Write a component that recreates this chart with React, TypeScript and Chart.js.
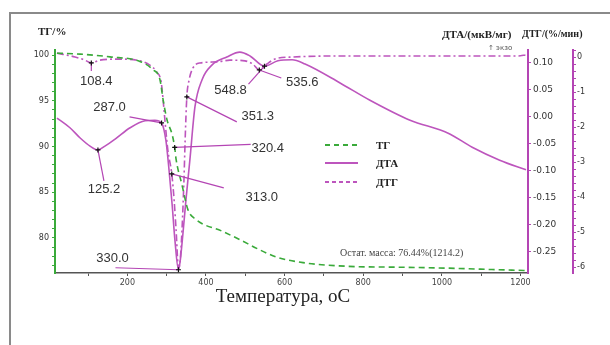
import React, { useEffect, useRef } from 'react';
import { Chart, registerables } from 'chart.js';

Chart.register(...registerables);

// ---- data ----
const tgTemps = [21, 80, 156, 232, 265, 283, 291, 301, 314, 320.4, 324, 339, 354, 372, 443, 487, 532, 580, 647, 761, 893, 1015, 1127, 1214.2];
const tgValues = [100.2, 100.1, 99.8, 99.3, 98.4, 97.3, 95.1, 92.9, 91.3, 89.9, 88.6, 85.8, 83.1, 82.1, 80.7, 79.8, 78.8, 77.9, 77.3, 76.9, 76.8, 76.7, 76.55, 76.44];

const dtaTemps = [21, 54, 80, 105, 125.2, 143, 169, 207, 245, 270, 287.0, 298, 306, 314, 321, 330.0, 334, 341, 349, 359, 372, 390, 415, 453, 486, 512, 548.8, 583, 619, 652, 741, 817, 919, 1016, 1077, 1147, 1214];
const dtaValues = [-0.002, -0.020, -0.039, -0.054, -0.061, -0.054, -0.041, -0.020, -0.007, -0.006, -0.011, -0.043, -0.098, -0.163, -0.228, -0.283, -0.269, -0.219, -0.154, -0.080, 0.019, 0.069, 0.096, 0.111, 0.120, 0.113, 0.094, 0.104, 0.106, 0.098, 0.063, 0.031, -0.006, -0.030, -0.056, -0.080, -0.098];

const dtgTemps = [21, 67, 92, 108.4, 130, 181, 232, 257, 275, 286, 291, 296, 303, 313.0, 319, 324, 330, 334, 339, 344, 347, 351.3, 357, 367, 385, 428, 461, 499, 519, 535.6, 555, 575, 621, 766, 1020, 1193, 1214];
const dtgValues = [0.11, 0, -0.09, -0.17, -0.09, -0.06, -0.11, -0.23, -0.43, -0.71, -1.23, -1.86, -2.66, -3.34, -4.09, -4.94, -6.03, -5.86, -4.94, -3.51, -2.37, -1.14, -0.66, -0.31, -0.17, -0.14, -0.09, -0.11, -0.2, -0.37, -0.2, -0.06, 0, 0.03, 0.03, 0.03, 0.06];

const peakLabels = ['108.4', '287.0', '125.2', '320.4', '313.0', '330.0', '351.3', '548.8', '535.6'];
const peakTemps = [108.4, 287.0, 125.2, 320.4, 313.0, 330.0, 351.3, 548.8, 535.6];
const peakSeries = ['dtg', 'dta', 'dta', 'tg', 'dtg', 'dta', 'dtg', 'dta', 'dtg'];

const xTickValues = [100, 200, 300, 400, 500, 600, 700, 800, 900, 1000, 1100, 1200];
const tgTickValues = [77, 78, 79, 80, 81, 82, 83, 84, 85, 86, 87, 88, 89, 90, 91, 92, 93, 94, 95, 96, 97, 98, 99, 100];
const dtaTickValues = [-0.25, -0.2, -0.15, -0.1, -0.05, 0, 0.05, 0.1];
const dtgTickValues = Array.from({ length: 32 }, (_, i) => Math.round((-6 + i * 0.2) * 10) / 10);

const legendNames = ['ТГ', 'ДТА', 'ДТГ'];
const residueNote = 'Остат. масса: 76.44%(1214.2)';

// ---- styles / layout (not data) ----
const GREEN = '#3aaa3a';
const MAGENTA = '#bd55bd';
const AXIS_MAGENTA = '#b445b4';
// label offsets relative to the marker: [labelDx, labelDy, leaderDx, leaderDy]
const labelOffsets = [
  [5, 18, 0, 8],
  [-52, -15, -32, -6],
  [6, 40, 6, 31],
  [93, 1, 76, -3],
  [90, 23, 52, 14],
  [-66, -11, -63, -2],
  [71, 20, 50, 25],
  [-34, 24, -16, 18],
  [43, 12, 22, 8],
];

const seriesMap: Record<string, { t: number[]; v: number[]; axis: string }> = {
  tg: { t: tgTemps, v: tgValues, axis: 'y' },
  dta: { t: dtaTemps, v: dtaValues, axis: 'y1' },
  dtg: { t: dtgTemps, v: dtgValues, axis: 'y2' },
};

function valueAt(t: number[], v: number[], x: number) {
  for (let i = 0; i < t.length - 1; i++) {
    if (x >= t[i] && x <= t[i + 1]) {
      const f = (x - t[i]) / (t[i + 1] - t[i]);
      return v[i] + f * (v[i + 1] - v[i]);
    }
  }
  return v[v.length - 1];
}

const zip = (t: number[], v: number[]) => t.map((x, i) => ({ x, y: v[i] }));

const overlayPlugin = {
  id: 'overlay',
  afterDatasetsDraw(chart: any) {
    const ctx = chart.ctx as CanvasRenderingContext2D;
    const xs = chart.scales.x;
    ctx.save();
    peakLabels.forEach((lab, i) => {
      const s = seriesMap[peakSeries[i]];
      const px = xs.getPixelForValue(peakTemps[i]);
      const py = chart.scales[s.axis].getPixelForValue(valueAt(s.t, s.v, peakTemps[i]));
      const [ldx, ldy, edx, edy] = labelOffsets[i];
      ctx.strokeStyle = AXIS_MAGENTA;
      ctx.lineWidth = 1.2;
      ctx.setLineDash([]);
      ctx.beginPath();
      ctx.moveTo(px, py);
      ctx.lineTo(px + edx, py + edy);
      ctx.stroke();
      ctx.strokeStyle = '#111';
      ctx.lineWidth = 1.2;
      ctx.beginPath();
      ctx.moveTo(px - 2.5, py);
      ctx.lineTo(px + 2.5, py);
      ctx.moveTo(px, py - 2.5);
      ctx.lineTo(px, py + 2.5);
      ctx.stroke();
      ctx.fillStyle = '#333';
      ctx.font = '13px "Liberation Sans", Arial, sans-serif';
      ctx.textAlign = 'center';
      ctx.textBaseline = 'middle';
      ctx.fillText(lab, px + ldx, py + ldy);
    });
    ctx.restore();
  },
  afterDraw(chart: any) {
    const ctx = chart.ctx as CanvasRenderingContext2D;
    ctx.save();
    ctx.strokeStyle = '#8a8a8a';
    ctx.lineWidth = 2;
    ctx.setLineDash([]);
    ctx.beginPath();
    ctx.moveTo(10, 345);
    ctx.lineTo(10, 13);
    ctx.lineTo(610, 13);
    ctx.stroke();

    ctx.fillStyle = '#222';
    ctx.textAlign = 'left';
    ctx.textBaseline = 'middle';
    ctx.font = 'bold 11px "Liberation Serif", serif';
    ctx.fillText('ТГ/%', 38, 32);
    ctx.fillText('ДТА/(мкВ/мг)', 442, 35);
    ctx.font = 'bold 10px "Liberation Serif", serif';
    ctx.fillText('ДТГ/(%/мин)', 522, 34);
    ctx.font = '7px "DejaVu Sans", sans-serif';
    ctx.fillStyle = '#555';
    ctx.fillText('↑ экзо', 488, 48);

    const ly = [145, 163, 182];
    const lstyle = [
      { c: GREEN, d: [5, 4] },
      { c: MAGENTA, d: [] as number[] },
      { c: MAGENTA, d: [4, 3] },
    ];
    legendNames.forEach((n, i) => {
      ctx.strokeStyle = lstyle[i].c;
      ctx.lineWidth = 2;
      ctx.setLineDash(lstyle[i].d);
      ctx.beginPath();
      ctx.moveTo(325, ly[i]);
      ctx.lineTo(358, ly[i]);
      ctx.stroke();
      ctx.setLineDash([]);
      ctx.fillStyle = '#222';
      ctx.font = 'bold 11px "Liberation Serif", serif';
      ctx.textAlign = 'left';
      ctx.fillText(n, 376, ly[i] + 1);
    });

    ctx.fillStyle = '#444';
    ctx.font = '10px "Liberation Serif", serif';
    ctx.fillText(residueNote, 340, 253);

    ctx.fillStyle = '#222';
    ctx.font = '19px "Liberation Serif", serif';
    ctx.textAlign = 'center';
    ctx.fillText('Температура, оС', 283, 297);
    ctx.restore();
  },
};

export default function App() {
  const ref = useRef<HTMLCanvasElement | null>(null);
  useEffect(() => {
    if (!ref.current) return;
    const tickFont = { size: 8, family: '"DejaVu Sans", sans-serif' };
    const chart = new Chart(ref.current, {
      type: 'line',
      data: {
        datasets: [
          {
            label: legendNames[0],
            data: zip(tgTemps, tgValues),
            yAxisID: 'y',
            borderColor: GREEN,
            borderWidth: 1.6,
            borderDash: [6, 4],
            pointRadius: 0,
            cubicInterpolationMode: 'monotone',
          },
          {
            label: legendNames[1],
            data: zip(dtaTemps, dtaValues),
            yAxisID: 'y1',
            borderColor: MAGENTA,
            borderWidth: 1.6,
            pointRadius: 0,
            cubicInterpolationMode: 'monotone',
          },
          {
            label: legendNames[2],
            data: zip(dtgTemps, dtgValues),
            yAxisID: 'y2',
            borderColor: MAGENTA,
            borderWidth: 1.6,
            borderDash: [7, 3, 2, 3],
            pointRadius: 0,
            cubicInterpolationMode: 'monotone',
          },
        ],
      },
      options: {
        animation: false,
        responsive: false,
        devicePixelRatio: 1,
        layout: { padding: { left: 10, top: 50, right: 5, bottom: 52 } },
        plugins: { legend: { display: false }, tooltip: { enabled: false } },
        scales: {
          x: {
            type: 'linear',
            min: 16,
            max: 1219,
            afterBuildTicks: (s: any) => { s.ticks = xTickValues.map((value) => ({ value })); },
            afterFit: (s: any) => { s.height = 20; },
            ticks: {
              autoSkip: false,
              maxRotation: 0,
              padding: 2,
              color: '#444',
              font: tickFont,
              callback: (v: any) => (Number(v) % 200 === 0 ? String(v) : ''),
            },
            grid: { drawOnChartArea: false, tickLength: 3, color: '#555' },
            border: { color: '#555', width: 1.5 },
          },
          y: {
            type: 'linear',
            position: 'left',
            min: 76.17,
            max: 100.55,
            afterBuildTicks: (s: any) => { s.ticks = tgTickValues.map((value) => ({ value })); },
            afterFit: (s: any) => { s.width = 45; },
            ticks: {
              autoSkip: false,
              padding: 3,
              color: '#333',
              font: tickFont,
              callback: (v: any) => (Number(v) % 5 === 0 ? String(v) : ''),
            },
            grid: { drawOnChartArea: false, tickLength: 3, color: GREEN },
            border: { color: GREEN, width: 2 },
          },
          y1: {
            type: 'linear',
            position: 'right',
            min: -0.289,
            max: 0.124,
            afterBuildTicks: (s: any) => { s.ticks = dtaTickValues.map((value) => ({ value })); },
            afterFit: (s: any) => { s.width = 45; },
            ticks: {
              autoSkip: false,
              padding: 2,
              color: '#333',
              font: { size: 9, family: '"DejaVu Sans", sans-serif' },
              callback: (v: any) => Number(v).toFixed(2),
            },
            grid: { drawOnChartArea: false, tickLength: 3, color: AXIS_MAGENTA },
            border: { color: AXIS_MAGENTA, width: 2 },
          },
          y2: {
            type: 'linear',
            position: 'right',
            min: -6.17,
            max: 0.2,
            afterBuildTicks: (s: any) => { s.ticks = dtgTickValues.map((value) => ({ value })); },
            afterFit: (s: any) => { s.width = 32; },
            ticks: {
              autoSkip: false,
              padding: 1,
              color: '#333',
              font: tickFont,
              callback: (v: any) => {
                const n = Number(v);
                return Math.abs(n - Math.round(n)) < 1e-6 ? String(Math.round(n) === 0 ? 0 : Math.round(n)) : '';
              },
            },
            grid: { drawOnChartArea: false, tickLength: 3, color: AXIS_MAGENTA },
            border: { color: AXIS_MAGENTA, width: 2 },
          },
        },
      },
      plugins: [overlayPlugin],
    } as any);
    return () => chart.destroy();
  }, []);
  return (
    <div style={{ position: 'fixed', left: 0, top: 0, width: 610, height: 345, background: '#fff' }}>
      <canvas ref={ref} width={610} height={345} style={{ display: 'block' }} />
    </div>
  );
}
